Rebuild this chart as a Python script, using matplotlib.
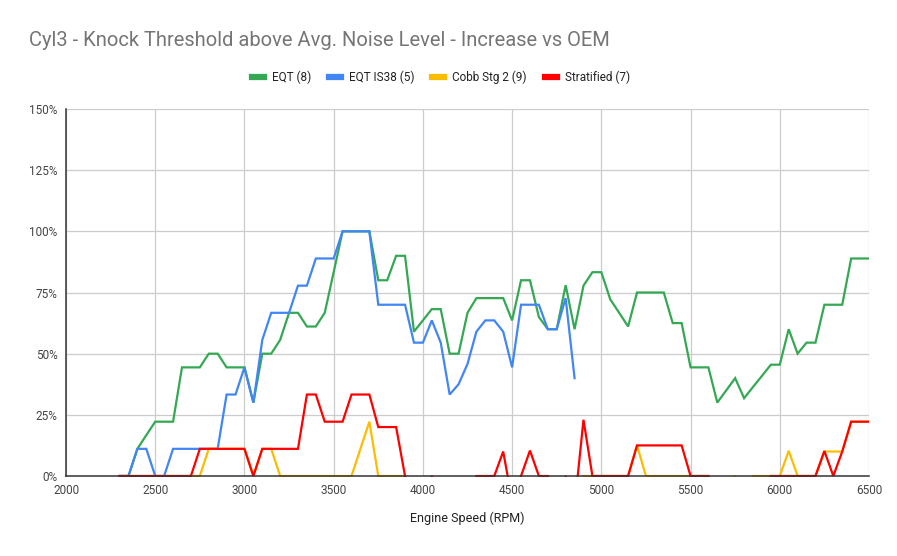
import matplotlib
matplotlib.use("Agg")
import matplotlib.pyplot as plt
import numpy as np
from matplotlib.patches import Rectangle
from matplotlib.lines import Line2D

plt.rcParams['font.family'] = ['Roboto', 'DejaVu Sans']

nan = float('nan')

rpm = [2300, 2350, 2400, 2450, 2500, 2550, 2600, 2650, 2700, 2750,
       2800, 2850, 2900, 2950, 3000, 3050, 3100, 3150, 3200, 3250,
       3300, 3350, 3400, 3450, 3500, 3550, 3600, 3650, 3700, 3750,
       3800, 3850, 3900, 3950, 4000, 4050, 4100, 4150, 4200, 4250,
       4300, 4350, 4400, 4450, 4500, 4550, 4600, 4650, 4700, 4750,
       4800, 4850, 4900, 4950, 5000, 5050, 5100, 5150, 5200, 5250,
       5300, 5350, 5400, 5450, 5500, 5550, 5600, 5650, 5700, 5750,
       5800, 5850, 5900, 5950, 6000, 6050, 6100, 6150, 6200, 6250,
       6300, 6350, 6400, 6450, 6500]

eqt = [0, 0, 11.1, 16.7, 22.2, 22.2, 22.2, 44.4, 44.4, 44.4,
       50, 50, 44.4, 44.4, 44.4, 30, 50, 50, 55.6, 66.7,
       66.7, 61.1, 61.1, 66.7, 83.3, 100, 100, 100, 100, 80,
       80, 90, 90, 59, 63.6, 68.2, 68.2, 50, 50, 66.7,
       72.7, 72.7, 72.7, 72.7, 63.6, 80, 80, 65, 60, 60,
       78, 60, 77.8, 83.3, 83.3, 72.2, 66.7, 61.1, 75, 75,
       75, 75, 62.5, 62.5, 44.4, 44.4, 44.4, 30, 35, 40,
       31.8, 36.4, 40.9, 45.5, 45.5, 60, 50, 54.5, 54.5, 70,
       70, 70, 88.9, 88.9, 88.9]

eqt_is38 = [0, 0, 11.1, 11.1, 0, 0, 11.1, 11.1, 11.1, 11.1,
            11.1, 11.1, 33.3, 33.3, 44.4, 30, 55.6, 66.7, 66.7, 66.7,
            77.8, 77.8, 88.9, 88.9, 88.9, 100, 100, 100, 100, 70,
            70, 70, 70, 54.5, 54.5, 63.6, 54.5, 33.3, 37.5, 45.8,
            59, 63.6, 63.6, 59, 44.4, 70, 70, 70, 60, 60,
            72.7, 40, nan, nan, nan, nan, nan, nan, nan, nan,
            nan, nan, nan, nan, nan, nan, nan, nan, nan, nan,
            nan, nan, nan, nan, nan, nan, nan, nan, nan, nan,
            nan, nan, nan, nan, nan]

cobb = [0, 0, 0, 0, 0, 0, 0, 0, 0, 0,
        11.1, 11.1, 11.1, 11.1, 11.1, 0, 11.1, 11.1, 0, 0,
        0, 0, 0, 0, 0, 0, 0, 11.1, 22.2, 0,
        0, 0, 0, -11.1, -11.1, -11.1, -11.1, -11.1, -11.1, -11.1,
        -11.1, -11.1, -11.1, -11.1, -11.1, -11.1, -11.1, -11.1, -11.1, -11.1,
        -11.1, -11.1, 0, 0, 0, 0, 0, 0, 12.5, 0,
        0, 0, 0, 0, 0, 0, 0, -11.1, -11.1, 0,
        -11.1, 0, 0, 0, 0, 10.3, 0, 0, 0, 10,
        10, 10, 22.2, 22.2, 22.2]

stratified = [0, 0, 0, 0, 0, 0, 0, 0, 0, 11.1,
              11.1, 11.1, 11.1, 11.1, 11.1, 0, 11.1, 11.1, 11.1, 11.1,
              11.1, 33.3, 33.3, 22.2, 22.2, 22.2, 33.3, 33.3, 33.3, 20,
              20, 20, 0, -11.1, -11.1, 0, -11.1, -11.1, -11.1, -11.1,
              0, 0, 0, 10, -10, 0, 10.4, 0, 0, -11.1,
              0, -12.5, 23, 0, 0, 0, 0, 0, 12.5, 12.5,
              12.5, 12.5, 12.5, 12.5, 0, 0, 0, -11.1, -11.1, -11.1,
              -11.1, -11.1, -11.1, 0, 0, 0, 0, 0, 0, 10.2,
              0, 10, 22.2, 22.2, 22.2]

series_names = ['EQT (8)', 'EQT IS38 (5)', 'Cobb Stg 2 (9)', 'Stratified (7)']
series_colors = ['#34a853', '#4285f4', '#fbbc04', '#ff0000']
series_values = [eqt, eqt_is38, cobb, stratified]

x_ticks = [2000, 2500, 3000, 3500, 4000, 4500, 5000, 5500, 6000, 6500]
y_ticks = [0, 25, 50, 75, 100, 125, 150]

fig = plt.figure(figsize=(8.97, 5.56), dpi=100)
fig.patch.set_facecolor('white')
ax = fig.add_axes([66 / 897, 80 / 556, 803 / 897, 367 / 556])

clip_rect = Rectangle((0, -0.004), 1, 1.01, transform=ax.transAxes)

for name, col, vals in zip(series_names, series_colors, series_values):
    ln, = ax.plot(rpm, np.array(vals, dtype=float), color=col, lw=1.6,
                  solid_joinstyle='miter', label=name, zorder=3)
    ln.set_clip_path(clip_rect)

ax.set_xlim(2000, 6500)
ax.set_ylim(0, 150)
ax.set_xticks(x_ticks)
ax.set_xticklabels([str(v) for v in x_ticks])
ax.set_yticks(y_ticks)
ax.set_yticklabels([f'{v}%' for v in y_ticks])
ax.grid(True, color='#cccccc', lw=0.9, zorder=0)
ax.set_axisbelow(True)
ax.tick_params(length=0, labelsize=8.5, colors='#444444', pad=6)
for s in ['top', 'right']:
    ax.spines[s].set_visible(False)
for s in ['left', 'bottom']:
    ax.spines[s].set_color('#333333')
    ax.spines[s].set_linewidth(1.1)
    ax.spines[s].set_zorder(5)

ax.set_xlabel('Engine Speed (RPM)', fontsize=9, color='#222222', labelpad=10)

fig.text(29 / 897, 1 - 40 / 556, 'Cyl3 - Knock Threshold above Avg. Noise Level - Increase vs OEM',
         fontsize=14.5, color='#757575', ha='left', va='center')

handles = [Line2D([0], [0], color=c, lw=4.5) for c in series_colors]
fig.legend(handles, series_names, loc='center', bbox_to_anchor=(441 / 897, 1 - 77 / 556),
           ncol=4, frameon=False, fontsize=8.5, handlelength=1.0, handletextpad=0.7,
           columnspacing=1.5, labelcolor='#222222')

fig.savefig('out.png', dpi=100, facecolor='white')
